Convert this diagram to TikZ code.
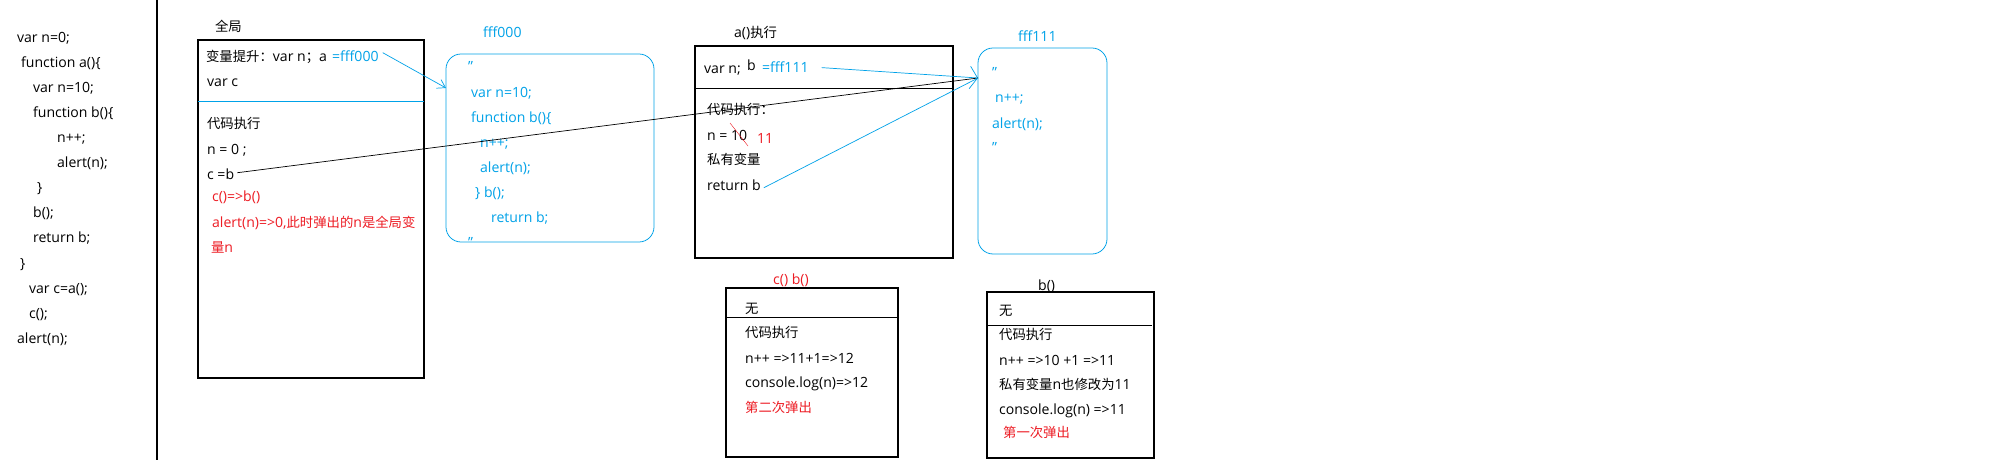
\documentclass[tikz,border=0pt]{standalone}
\usepackage{fontspec}
\setmainfont{Open Sans}
\newfontfamily\cjkfont[Scale=0.95]{Noto Sans CJK SC}
\usepackage{xcolor}
\usepackage{tikz}
\usetikzlibrary{positioning, calc, arrows.meta}
\definecolor{paintblue}{RGB}{0,162,232}
\definecolor{paintred}{RGB}{237,28,36}
\newcommand{\zh}[1]{{\cjkfont #1}}
\newcommand{\codesize}{\fontsize{20}{24}\selectfont}

\begin{document}
\begin{tikzpicture}[x=0.05cm, y=-0.05cm]
\tikzstyle{codeline}=[anchor=base west, inner sep=0pt, font=\codesize, text=black]
\tikzstyle{bluecode}=[codeline, text=paintblue]
\tikzstyle{redcode}=[codeline, text=paintred]
\tikzstyle{stackbox}=[draw=black, line width=1.6pt, anchor=north west, inner sep=0pt, outer sep=0pt]
\tikzstyle{heapbox}=[draw=paintblue, line width=1.1pt, rounded corners=0.75cm, anchor=north west, inner sep=0pt, outer sep=0pt]
\tikzstyle{pointer}=[paintblue, line width=1pt]

\useasboundingbox (0,0) rectangle (2000,460);
\fill [white] (0,0) rectangle (2000,460);

% source code
\node (src1) at (17,43) [codeline] {var n=0;};
\node (src2) at (21,68) [codeline] {function a()\{};
\node (src3) at (33,93) [codeline] {var n=10;};
\node (src4) at (33,118) [codeline] {function b()\{};
\node (src5) at (57,143) [codeline] {n++;};
\node (src6) at (57,168) [codeline] {alert(n);};
\node (src7) at (37,193) [codeline] {\}};
\node (src8) at (33,218) [codeline] {b();};
\node (src9) at (33,243) [codeline] {return b;};
\node (src10) at (20,268) [codeline] {\}};
\node (src11) at (29,293) [codeline] {var c=a();};
\node (src12) at (29,318) [codeline] {c();};
\node (src13) at (17,343) [codeline] {alert(n);};

\draw [line width=2pt] (157,0) -- (157,460);

% global scope
\node (glob) at (198,40) [stackbox, minimum width=11.3cm, minimum height=16.9cm] {};
\node (globtitle) at (215,32) [codeline] {\zh{全局}};
\draw [paintblue, line width=1.1pt] (198,101) -- (424,101);
\node (ghoist) at (206,62) [codeline] {\zh{变量提升：}var n\zh{；}};
\node (gvara) at (319,62) [codeline] {a};
\node (gaddr) at (332,62) [bluecode] {=fff000};
\node (gvarc) at (207,87) [codeline] {var c};
\node (grun) at (207,129) [codeline] {\zh{代码执行}};
\node (gn) at (207,155) [codeline] {n = 0 ;};
\node (gcb) at (207,180) [codeline] {c =b};
\node (gcall) at (212,202) [redcode] {c()=>b()};
\node (galert) at (212,227) [redcode] {alert(n)=>0,\zh{此时弹出的}n\zh{是全局变}};
\node (galert2) at (211,252) [redcode] {\zh{量}n};

% heap fff000
\node (mem0) at (446,54) [heapbox, minimum width=10.4cm, minimum height=9.4cm] {};
\node (mem0title) at (483,38) [bluecode] {fff000};
\node (m0q1) at (468,72) [bluecode] {"};
\node (m0l1) at (471,98) [bluecode] {var n=10;};
\node (m0l2) at (471,123) [bluecode] {function b()\{};
\node (m0l3) at (480,148) [bluecode] {n++;};
\node (m0l4) at (480,173) [bluecode] {alert(n);};
\node (m0l5) at (475,198) [bluecode] {\} b();};
\node (m0l6) at (491,223) [bluecode] {return b;};
\node (m0q2) at (468,247) [bluecode] {"};

% a() context
\node (actx) at (695,46) [stackbox, minimum width=12.9cm, minimum height=10.6cm] {};
\node (actxtitle) at (734,38) [codeline] {a()\zh{执行}};
\draw [line width=1.3pt] (694,88) -- (953,88);
\node (avar) at (704,74) [codeline] {var n;};
\node (ab) at (747,71) [codeline] {b};
\node (aaddr) at (762,73) [bluecode] {=fff111};
\node (arun) at (707,115) [codeline] {\zh{代码执行：}};
\node (an) at (707,141) [codeline] {n = 10};
\node (an11) at (757,144) [redcode] {11};
\draw [paintred, line width=0.6pt] (730,123) -- (748,146);
\node (apriv) at (707,165) [codeline] {\zh{私有变量}};
\node (aret) at (707,191) [codeline] {return b};

% heap fff111
\node (mem1) at (978,48) [heapbox, minimum width=6.45cm, minimum height=10.3cm] {};
\node (mem1title) at (1018,42) [bluecode] {fff111};
\node (m1q1) at (992,78) [bluecode] {"};
\node (m1l1) at (995,103) [bluecode] {n++;};
\node (m1l2) at (992,129) [bluecode] {alert(n);};
\node (m1q2) at (992,153) [bluecode] {"};

% c() -> b(), second call
\node (cctx) at (726,288) [stackbox, minimum width=8.6cm, minimum height=8.45cm] {};
\node (cctxtitle) at (773,284) [redcode] {c() b()};
\draw [line width=1.3pt] (726,317) -- (898,317);
\node (cnone) at (745,313) [codeline] {\zh{无}};
\node (crun) at (745,337) [codeline] {\zh{代码执行}};
\node (cinc) at (745,363) [codeline] {n++ =>11+1=>12};
\node (clog) at (745,387) [codeline] {console.log(n)=>12};
\node (cnote) at (745,412) [redcode] {\zh{第二次弹出}};

% b() inside a(), first call
\node (bctx) at (987,292) [stackbox, minimum width=8.35cm, minimum height=8.3cm] {};
\node (bctxtitle) at (1038,290) [codeline] {b()};
\draw [line width=1.3pt] (987,325) -- (1152,325);
\node (bnone) at (999,315) [codeline] {\zh{无}};
\node (brun) at (999,339) [codeline] {\zh{代码执行}};
\node (binc) at (999,365) [codeline] {n++ =>10 +1 =>11};
\node (bpriv) at (999,389) [codeline] {\zh{私有变量}n\zh{也修改为}11};
\node (blog) at (999,414) [codeline] {console.log(n) =>11};
\node (bnote) at (1003,437) [redcode] {\zh{第一次弹出}};

% pointers
\coordinate (mem0in) at (446,88);
\coordinate (mem1in) at (978,78);
\draw [pointer, -{Straight Barb[length=11pt, width=14pt]}] ($(gaddr.east)+(4,-4)$) -- (mem0in);
\draw [pointer, -{Straight Barb[length=11pt, width=32pt]}] ($(aaddr.east)+(13,0)$) -- (mem1in);
\draw [line width=1pt] ($(gcb.east)+(3,-2)$) -- (mem1in);
\draw [pointer] ($(aret.east)+(3,2)$) -- (mem1in);
\end{tikzpicture}
\end{document}
